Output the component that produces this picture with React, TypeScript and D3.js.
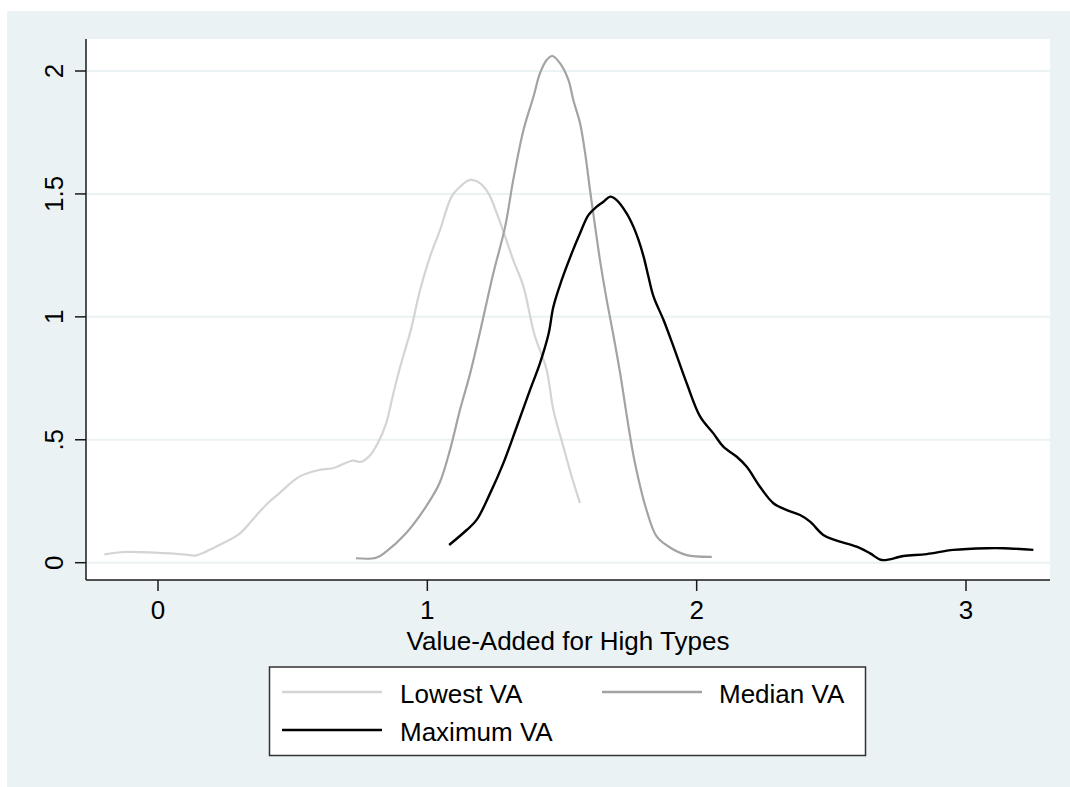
import React from "react";
import * as d3 from "d3";

const xTicks = [0, 1, 2, 3];
const yTicks = [0, 0.5, 1, 1.5, 2];
const yTickLabels = ["0", ".5", "1", "1.5", "2"];

const seriesNames = ["Lowest VA", "Median VA", "Maximum VA"];
const seriesColors = ["#d4d4d4", "#a3a3a3", "#000000"];

const lowestX = [-0.199, -0.125, -0.014, 0.104, 0.135, 0.178, 0.228, 0.302, 0.352, 0.401, 0.45, 0.525, 0.599, 0.649, 0.723, 0.754, 0.785, 0.816, 0.847, 0.871, 0.896, 0.921, 0.939, 0.973, 1.01, 1.047, 1.09, 1.121, 1.159, 1.196, 1.227, 1.258, 1.289, 1.319, 1.357, 1.397, 1.443, 1.468, 1.505, 1.536, 1.567];
const lowestY = [0.034, 0.0435, 0.041, 0.033, 0.029, 0.045, 0.072, 0.117, 0.176, 0.235, 0.282, 0.35, 0.377, 0.384, 0.415, 0.41, 0.434, 0.486, 0.567, 0.675, 0.784, 0.879, 0.947, 1.109, 1.245, 1.353, 1.489, 1.529, 1.557, 1.543, 1.502, 1.421, 1.326, 1.231, 1.123, 0.93, 0.784, 0.621, 0.472, 0.35, 0.242];

const medianX = [0.735, 0.81, 0.847, 0.921, 0.995, 1.045, 1.084, 1.121, 1.159, 1.199, 1.245, 1.289, 1.319, 1.357, 1.394, 1.418, 1.443, 1.464, 1.493, 1.524, 1.542, 1.567, 1.586, 1.604, 1.623, 1.641, 1.666, 1.69, 1.716, 1.747, 1.77, 1.815, 1.852, 1.901, 1.963, 2.056];
const medianY = [0.018, 0.02, 0.045, 0.12, 0.228, 0.323, 0.458, 0.621, 0.77, 0.955, 1.177, 1.367, 1.557, 1.76, 1.895, 1.99, 2.045, 2.061, 2.031, 1.963, 1.882, 1.787, 1.665, 1.516, 1.367, 1.231, 1.069, 0.93, 0.77, 0.553, 0.41, 0.21, 0.106, 0.062, 0.031, 0.024];

const maxX = [1.081, 1.146, 1.183, 1.233, 1.282, 1.332, 1.381, 1.418, 1.45, 1.468, 1.499, 1.536, 1.567, 1.598, 1.629, 1.654, 1.679, 1.703, 1.74, 1.765, 1.784, 1.803, 1.821, 1.84, 1.877, 1.914, 1.963, 2.013, 2.062, 2.099, 2.149, 2.186, 2.235, 2.285, 2.335, 2.384, 2.421, 2.47, 2.514, 2.594, 2.644, 2.687, 2.768, 2.854, 2.953, 3.077, 3.139, 3.25];
const maxY = [0.072, 0.133, 0.174, 0.282, 0.404, 0.553, 0.702, 0.811, 0.93, 1.041, 1.15, 1.258, 1.34, 1.414, 1.448, 1.468, 1.489, 1.475, 1.421, 1.367, 1.313, 1.245, 1.163, 1.082, 0.987, 0.879, 0.73, 0.594, 0.526, 0.472, 0.431, 0.39, 0.309, 0.242, 0.214, 0.194, 0.167, 0.113, 0.092, 0.065, 0.038, 0.011, 0.027, 0.035, 0.052, 0.059, 0.059, 0.052];

const xAxisTitle = "Value-Added for High Types";

export default function App() {
  const W = 1070;
  const H = 787;
  const left = 86, right = 1050, top = 39, bottom = 580;
  const x = d3.scaleLinear().domain([0, 3]).range([158, 966]);
  const y = d3.scaleLinear().domain([0, 2]).range([562.7, 71]);

  const series = [
    { xs: lowestX, ys: lowestY },
    { xs: medianX, ys: medianY },
    { xs: maxX, ys: maxY },
  ];
  const line = d3
    .line<[number, number]>()
    .x((d) => x(d[0]))
    .y((d) => y(d[1]))
    .curve(d3.curveCatmullRom.alpha(0.5));

  const font = "'Liberation Sans', Arial, sans-serif";
  const fs = 26;

  const legendItems = [
    { i: 0, lx: 282, tx: 400, ly: 692 },
    { i: 1, lx: 602, tx: 719, ly: 692 },
    { i: 2, lx: 282, tx: 400, ly: 730 },
  ];

  return (
    <svg
      width={W}
      height={H}
      style={{ position: "absolute", left: 0, top: 0 }}
      fontFamily={font}
    >
      <rect x={0} y={0} width={W} height={H} fill="#ffffff" />
      <rect x={7} y={11} width={W - 7} height={H - 11} fill="#eaf2f3" />
      <rect x={left} y={top} width={right - left} height={bottom - top} fill="#ffffff" />
      {yTicks.map((t) => (
        <line key={"g" + t} x1={left} x2={right} y1={y(t)} y2={y(t)} stroke="#eaf2f3" strokeWidth={2} />
      ))}
      {series.map((s, i) => (
        <path
          key={i}
          d={line(s.xs.map((v, k) => [v, s.ys[k]] as [number, number])) || ""}
          fill="none"
          stroke={seriesColors[i]}
          strokeWidth={i === 2 ? 2.4 : 2.2}
          strokeLinejoin="round"
        />
      ))}
      <line x1={left} x2={left} y1={top} y2={bottom} stroke="#1a1a1a" strokeWidth={1.5} />
      <line x1={left} x2={right} y1={bottom} y2={bottom} stroke="#1a1a1a" strokeWidth={1.5} />
      {yTicks.map((t, k) => (
        <g key={"yt" + t}>
          <line x1={75} x2={left} y1={y(t)} y2={y(t)} stroke="#1a1a1a" strokeWidth={1.5} />
          <text
            transform={`translate(63,${y(t)}) rotate(-90)`}
            textAnchor="middle"
            fontSize={fs}
            fill="#000"
          >
            {yTickLabels[k]}
          </text>
        </g>
      ))}
      {xTicks.map((t) => (
        <g key={"xt" + t}>
          <line x1={x(t)} x2={x(t)} y1={bottom} y2={bottom + 11} stroke="#1a1a1a" strokeWidth={1.5} />
          <text x={x(t)} y={618.5} textAnchor="middle" fontSize={fs} fill="#000">
            {String(t)}
          </text>
        </g>
      ))}
      <text x={(left + right) / 2} y={649.5} textAnchor="middle" fontSize={fs} fill="#000">
        {xAxisTitle}
      </text>
      <rect x={269.5} y={667} width={596} height={88.5} fill="#ffffff" stroke="#333" strokeWidth={1.5} />
      {legendItems.map((it) => (
        <g key={"lg" + it.i}>
          <line x1={it.lx} x2={it.lx + 100} y1={it.ly} y2={it.ly} stroke={seriesColors[it.i]} strokeWidth={2.6} />
          <text x={it.tx} y={it.ly + 10.5} fontSize={fs} fill="#000">
            {seriesNames[it.i]}
          </text>
        </g>
      ))}
    </svg>
  );
}
